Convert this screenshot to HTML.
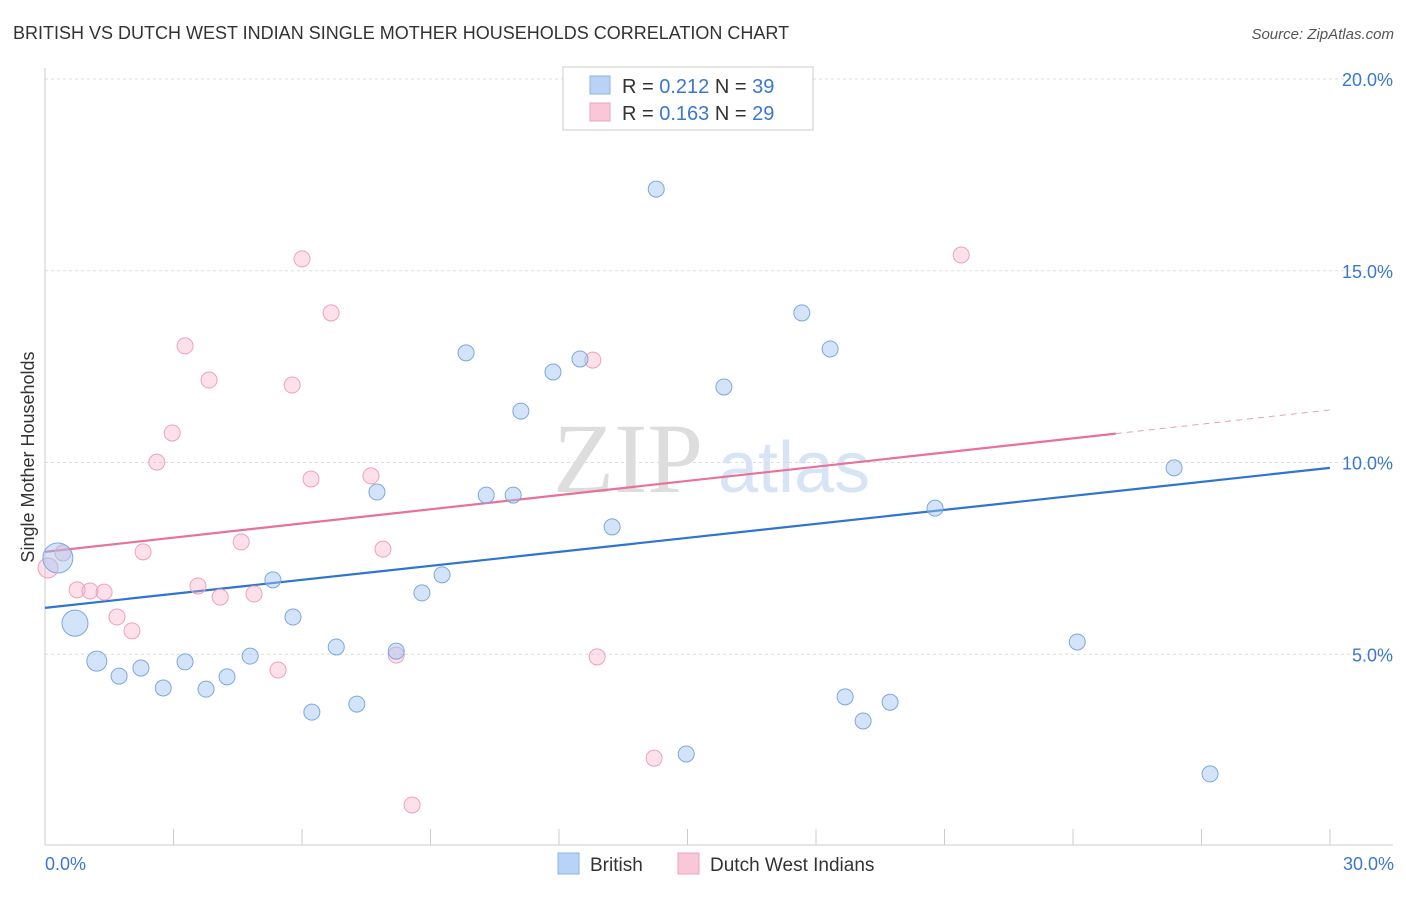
<!DOCTYPE html>
<html><head><meta charset="utf-8"><style>
body{margin:0;background:#fff;font-family:"Liberation Sans",sans-serif;}
</style></head><body>
<svg id="chart" width="1406" height="892" xmlns="http://www.w3.org/2000/svg" font-family="Liberation Sans, sans-serif">
<text x="13" y="39" font-size="18" fill="#333">BRITISH VS DUTCH WEST INDIAN SINGLE MOTHER HOUSEHOLDS CORRELATION CHART</text>
<text x="1394" y="39" font-size="15" fill="#555" text-anchor="end" font-style="italic">Source: ZipAtlas.com</text>
<text x="553" y="492" font-size="100" fill="#ddd" font-family="Liberation Serif, serif">ZIP</text>
<text x="718" y="492" font-size="72" fill="#d6e4f5">atlas</text>
<g id="grid"></g><g id="axes"></g><g id="lines"></g><g id="pts"></g>
<text transform="translate(34,457) rotate(-90)" font-size="18" fill="#333" text-anchor="middle">Single Mother Households</text>
<text x="45" y="870" font-size="18" fill="#3a78d0">0.0%</text>
<text x="1394" y="870" font-size="18" fill="#3a78d0" text-anchor="end">30.0%</text>
<g>
<rect x="563" y="67" width="250" height="63" fill="#fff" stroke="#ccc"/>
<rect x="590" y="76" width="20" height="18" fill="#b8d3f5" stroke="#8ab4e8"/>
<rect x="590" y="103" width="20" height="18" fill="#f8c8d8" stroke="#f0a0bc"/>
<text x="622" y="93" font-size="20" fill="#333">R = <tspan fill="#3a78d0">0.212</tspan>   N = <tspan fill="#3a78d0">39</tspan></text>
<text x="622" y="120" font-size="20" fill="#333">R = <tspan fill="#3a78d0">0.163</tspan>   N = <tspan fill="#3a78d0">29</tspan></text>
</g>
<g>
<rect x="558" y="853" width="21" height="21" fill="#b8d3f5" stroke="#8ab4e8"/>
<text x="590" y="871" font-size="19" fill="#333">British</text>
<rect x="678" y="853" width="21" height="21" fill="#f8c8d8" stroke="#f0a0bc"/>
<text x="710" y="871" font-size="19" fill="#333">Dutch West Indians</text>
</g>
</svg>
<script>
const yTicks=[5,10,15,20];
const yTickLabels=["5.0%","10.0%","15.0%","20.0%"];
const xTicks=[0,3,6,9,12,15,18,21,24,27,30];
const britishX=[0.30,0.70,1.21,1.73,2.24,2.76,3.27,3.76,4.25,4.79,5.32,5.79,6.23,6.80,7.28,7.75,8.20,8.80,9.27,9.83,10.30,10.93,11.11,11.86,12.49,13.24,14.27,14.97,15.85,17.67,18.33,18.68,19.10,19.73,20.78,24.10,26.36,27.20];
const britishY=[7.51,5.81,4.82,4.43,4.64,4.12,4.80,4.09,4.41,4.95,6.94,5.97,3.49,5.19,3.70,9.23,5.08,6.60,7.07,12.86,9.15,9.15,11.34,12.36,12.70,8.32,17.13,2.40,11.97,13.90,12.96,3.89,3.26,3.75,8.81,5.32,9.86,1.88];
const britishR=[15,13,10,8,8,8,8,8,8,8,8,8,8,8,8,8,8,8,8,8,8,8,8,8,8,8,8,8,8,8,8,8,8,8,8,8,8,8];
const dutchX=[0.07,0.42,0.75,1.05,1.38,1.68,2.03,2.29,2.61,2.97,3.27,3.57,3.83,4.09,4.58,4.88,5.44,5.77,6.00,6.21,6.68,7.61,7.89,8.20,8.57,12.79,12.89,14.22,21.39,12.77];
const dutchY=[7.25,7.64,6.68,6.65,6.62,5.97,5.61,7.67,10.01,10.77,13.04,6.78,12.15,6.49,7.93,6.57,4.59,12.02,15.31,9.57,13.90,9.65,7.74,4.98,1.07,12.67,4.93,2.29,15.41,19.24];
const britishTrend=[6.21,9.86];
const dutchTrend=[7.67,11.37];
const dutchSolidEnd=25;
const NS="http://www.w3.org/2000/svg";
const X=v=>45+v*1285/30, Y=v=>846-v*38.35;
function mk(tag,attrs,parent){const e=document.createElementNS(NS,tag);for(const k in attrs)e.setAttribute(k,attrs[k]);document.getElementById(parent).appendChild(e);return e;}
yTicks.forEach((t,i)=>{
 const g=mk('line',{x1:45,x2:1393,y1:Y(t),y2:Y(t),stroke:'#ddd','stroke-dasharray':'3,3'},'grid');
 
 
 const l=mk('text',{x:1393,y:Y(t)+7,'font-size':18,fill:'#3a78d0','text-anchor':'end'},'grid');
 l.textContent=yTickLabels[i];
 
 
});
const ax=mk('line',{x1:45,x2:45,y1:68,y2:845,stroke:'#ccc'},'axes');


const bx=mk('line',{x1:45,x2:1393,y1:845,y2:845,stroke:'#ccc'},'axes');


xTicks.forEach(t=>{
 const e=mk('line',{x1:X(t),x2:X(t),y1:829,y2:845,stroke:'#ccc'},'axes');
 
 
});
function trend(a,x0,x1,color,dash,name){
 const s=(a[1]-a[0])/30;
 const e=mk('line',{x1:X(x0),y1:Y(a[0]+s*x0),x2:X(x1),y2:Y(a[0]+s*x1),stroke:color,'stroke-width':dash?1:2.2},'lines');
 if(dash)e.setAttribute('stroke-dasharray','6,5');
 
 
}
trend(britishTrend,0,30,'#2f74d0',false,'british-trend-line');
trend(dutchTrend,0,dutchSolidEnd,'#e8719a',false,'dutch-trend-line');
trend(dutchTrend,dutchSolidEnd,30,'#e8a0b8',true,'dutch-trend-extension');
dutchX.forEach((x,i)=>{
 const c=mk('circle',{cx:X(x),cy:Y(dutchY[i]),r:i==0?10:8,fill:'rgba(245,170,195,0.35)',stroke:'#f0a0bc','stroke-width':1},'pts');
 
 
});
britishX.forEach((x,i)=>{
 const c=mk('circle',{cx:X(x),cy:Y(britishY[i]),r:britishR[i],fill:'rgba(160,196,240,0.45)',stroke:'#7aa8e0','stroke-width':1},'pts');
 
 
});
</script>
</body></html>
